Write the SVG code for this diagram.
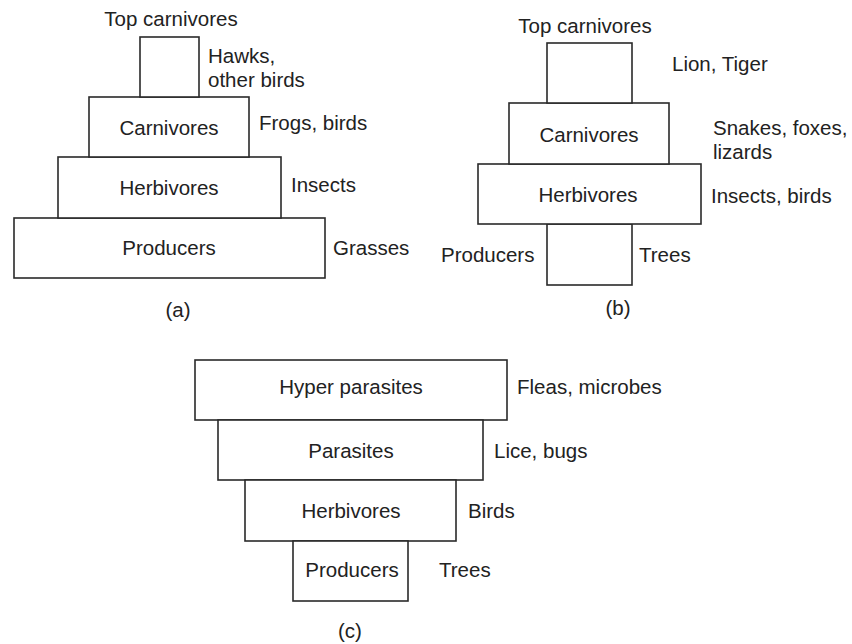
<svg xmlns="http://www.w3.org/2000/svg" width="852" height="644" viewBox="0 0 852 644">
<style>
rect{fill:#fff;stroke:#2a2a2a;stroke-width:1.6}
text{font-family:"Liberation Sans",Arial,sans-serif;font-size:20.5px;fill:#222}
.c{text-anchor:middle}
</style>
<rect width="852" height="644" style="stroke:none"/>
<g id="panel-a">
<g id="a-producers"><rect x="14" y="218" width="311" height="60"/><text class="c" x="169" y="255">Producers</text><text x="333" y="255">Grasses</text></g>
<g id="a-herbivores"><rect x="58" y="157" width="223" height="61"/><text class="c" x="169" y="195">Herbivores</text><text x="291" y="192">Insects</text></g>
<g id="a-carnivores"><rect x="89" y="97" width="160" height="60"/><text class="c" x="169" y="135">Carnivores</text><text x="259" y="130">Frogs, birds</text></g>
<g id="a-top"><rect x="140" y="37" width="59" height="60"/><text class="c" x="171" y="26">Top carnivores</text><text x="208" y="63">Hawks,</text><text x="208" y="87">other birds</text></g>
<text id="label-a" class="c" x="178" y="317">(a)</text>
</g>
<g id="panel-b">
<g id="b-producers"><rect x="547" y="224" width="85" height="61"/><text x="441" y="262">Producers</text><text x="639" y="262">Trees</text></g>
<g id="b-herbivores"><rect x="478" y="164" width="223" height="60"/><text class="c" x="588" y="202">Herbivores</text><text x="711" y="203">Insects, birds</text></g>
<g id="b-carnivores"><rect x="509" y="103" width="160" height="61"/><text class="c" x="589" y="142">Carnivores</text><text x="713" y="135">Snakes, foxes,</text><text x="713" y="159">lizards</text></g>
<g id="b-top"><rect x="547" y="43" width="85" height="60"/><text class="c" x="585" y="33">Top carnivores</text><text x="672" y="71">Lion, Tiger</text></g>
<text id="label-b" class="c" x="618" y="315">(b)</text>
</g>
<g id="panel-c">
<g id="c-hyper"><rect x="195" y="360" width="312" height="60"/><text class="c" x="351" y="394">Hyper parasites</text><text x="517" y="394">Fleas, microbes</text></g>
<g id="c-parasites"><rect x="218" y="420" width="265" height="60"/><text class="c" x="351" y="458">Parasites</text><text x="494" y="458">Lice, bugs</text></g>
<g id="c-herbivores"><rect x="245" y="480" width="211" height="61"/><text class="c" x="351" y="518">Herbivores</text><text x="468" y="518">Birds</text></g>
<g id="c-producers"><rect x="293" y="541" width="115" height="60"/><text class="c" x="352" y="577">Producers</text><text x="439" y="577">Trees</text></g>
<text id="label-c" class="c" x="350" y="638">(c)</text>
</g>
<g id="connectors"/>
</svg>
